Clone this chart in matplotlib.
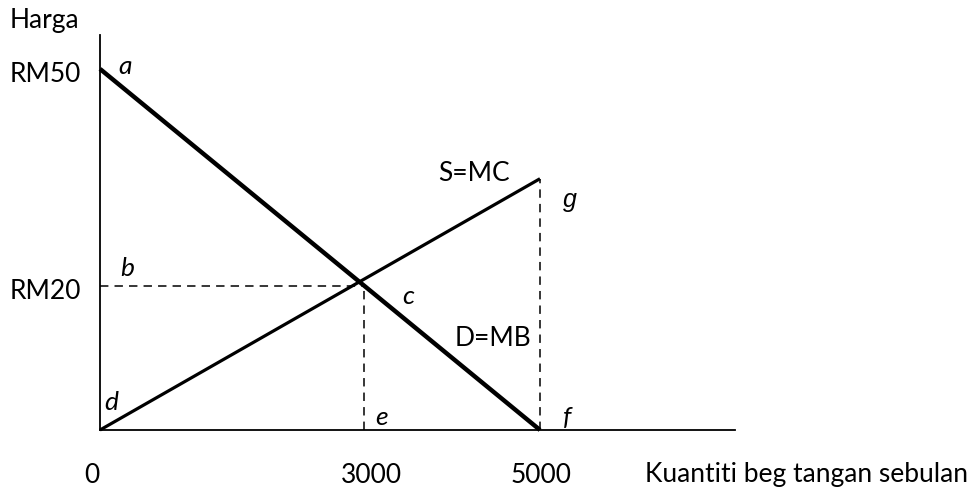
import matplotlib
matplotlib.use("Agg")
import matplotlib.pyplot as plt

plt.rcParams['font.family'] = ['Lato', 'DejaVu Sans']

# data
qty_demand = [0, 5000]
price_demand = [50, 0]
qty_supply = [0, 5000]
price_supply = [0, 34.8]
eq_q, eq_p = 3000, 20
g_q, g_p = 5000, 34.8

price_ticks = [50, 20]
price_labels = ['RM50', 'RM20']
qty_ticks = [0, 3000, 5000]
qty_labels = ['0', '3000', '5000']
qty_shift = [-8, 7, 1]  # label nudges in px

W, H = 979, 489
fig = plt.figure(figsize=(W/100, H/100), dpi=100)
ax = fig.add_axes([100/W, 58/H, 635/W, 395/H])
ax.set_xlim(0, 7216)
ax.set_ylim(0, 54.7)
for s in ['top', 'right']:
    ax.spines[s].set_visible(False)
for s in ['left', 'bottom']:
    ax.spines[s].set_linewidth(1.3)
ax.set_xticks([])
ax.set_yticks([])

ax.plot(qty_demand, price_demand, color='black', lw=3.2, solid_capstyle='butt', clip_on=False)
ax.plot(qty_supply, price_supply, color='black', lw=2.3, solid_capstyle='butt', clip_on=False)
dash = (0, (5.5, 4))
ax.plot([0, eq_q], [eq_p, eq_p], color='black', lw=1.1, ls=dash)
ax.plot([eq_q, eq_q], [0, eq_p], color='black', lw=1.1, ls=dash)
ax.plot([g_q, g_q], [0, g_p], color='black', lw=1.1, ls=dash)

fs = 19
# price labels left of the axis
for p, lab in zip(price_ticks, price_labels):
    ax.annotate(lab, (0, p), xytext=(-19, -12), textcoords='offset pixels',
                ha='right', va='baseline', fontsize=fs)
fig.text(10/W, 1 - 28/H, 'Harga', ha='left', va='baseline', fontsize=fs)

# quantity labels below the axis
for q, lab, dx in zip(qty_ticks, qty_labels, qty_shift):
    ax.annotate(lab, (q, 0), xytext=(dx, -52), textcoords='offset pixels',
                ha='center', va='baseline', fontsize=fs)
fig.text(645/W, 1 - 482/H, 'Kuantiti beg tangan sebulan', ha='left', va='baseline', fontsize=fs)

# point letters
pts = {'a': (125, 66), 'b': (127, 268), 'c': (408, 296), 'd': (111, 403),
       'e': (382, 418), 'f': (567, 418), 'g': (570, 200)}
for k, (px, py) in pts.items():
    fam = ['Liberation Sans'] if k == 'g' else None
    fig.text(px/W, 1 - py/H, k, style='italic', ha='center', va='center',
             fontsize=fs - 1 if k == 'g' else fs, family=fam)

fig.text(474/W, 1 - 181/H, 'S=MC', ha='center', va='baseline', fontsize=fs)
fig.text(493/W, 1 - 346/H, 'D=MB', ha='center', va='baseline', fontsize=fs)

fig.savefig('out.png', dpi=100)
